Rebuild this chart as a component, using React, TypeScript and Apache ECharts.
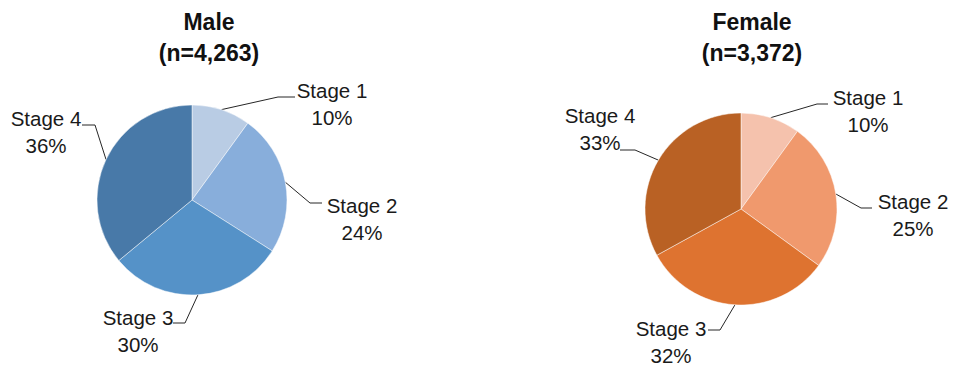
import React, { useEffect, useRef } from "react";
import * as echarts from "echarts";

const stages = ["Stage 1", "Stage 2", "Stage 3", "Stage 4"];
const maleValues = [10, 24, 30, 36];
const femaleValues = [10, 25, 32, 33];
const maleTitle = "Male\n(n=4,263)";
const femaleTitle = "Female\n(n=3,372)";
const maleColors = ["#B9CCE4", "#88AEDB", "#5592C8", "#4879A8"];
const femaleColors = ["#F5C2AD", "#F0996D", "#DE7330", "#B96124"];

// label layout: [labelCenterX, labelCenterY, elbowX, elbowY, endX]
const maleLabelLayout = [
  [332, 104, 278, 97, 295],
  [362, 219, 310, 203, 322],
  [138, 331, 185, 323, 173],
  [46, 132, 95, 125, 82],
];
const femaleLabelLayout = [
  [868, 111, 817, 104, 828],
  [913, 215, 861, 208, 872],
  [671, 342, 720, 330, 708],
  [600, 129, 635, 150, 620],
];

const FONT = "'Liberation Sans', Arial, sans-serif";

function makeSeries(values: number[], colors: string[], center: number[], radius: number, layout: number[][]) {
  return {
    type: "pie",
    center,
    radius,
    startAngle: 90,
    clockwise: true,
    data: stages.map((s, i) => ({ name: s, value: values[i], itemStyle: { color: colors[i] } })),
    itemStyle: { borderColor: "rgba(255,255,255,0.6)", borderWidth: 0.8 },
    label: {
      show: true,
      position: "outer",
      formatter: "{b}\n{c}%",
      fontFamily: FONT,
      fontSize: 20.5,
      lineHeight: 27,
      color: "#1a1a1a",
      align: "center",
      width: 110,
      overflow: "none",
    },
    labelLine: { show: true, length: 20, length2: 10, lineStyle: { color: "#262626", width: 1 } },
    labelLayout: (params: any) => {
      const l = layout[params.dataIndex];
      const p0 = params.labelLinePoints ? params.labelLinePoints[0] : [l[2], l[3]];
      return {
        x: l[0],
        y: l[1],
        align: "center",
        verticalAlign: "middle",
        labelLinePoints: [p0, [l[2], l[3]], [l[4], l[3]]],
      };
    },
    emphasis: { disabled: true },
  };
}

export default function App() {
  const ref = useRef<HTMLDivElement>(null);
  useEffect(() => {
    if (!ref.current) return;
    const chart = echarts.init(ref.current, null, { renderer: "svg" });
    chart.setOption({
      animation: false,
      backgroundColor: "#ffffff",
      title: [
        {
          text: maleTitle,
          left: 209,
          top: 6,
          textAlign: "center",
          padding: 0,
          textStyle: { fontFamily: FONT, fontWeight: "bold", fontSize: 23, lineHeight: 31, color: "#111" },
        },
        {
          text: femaleTitle,
          left: 752,
          top: 6,
          textAlign: "center",
          padding: 0,
          textStyle: { fontFamily: FONT, fontWeight: "bold", fontSize: 23, lineHeight: 31, color: "#111" },
        },
      ],
      series: [
        makeSeries(maleValues, maleColors, [192, 200], 95, maleLabelLayout),
        makeSeries(femaleValues, femaleColors, [741, 209], 96, femaleLabelLayout),
      ],
    });
    return () => chart.dispose();
  }, []);
  return (
    <div
      ref={ref}
      style={{ position: "fixed", left: 0, top: 0, width: 954, height: 369, background: "#fff" }}
    />
  );
}
